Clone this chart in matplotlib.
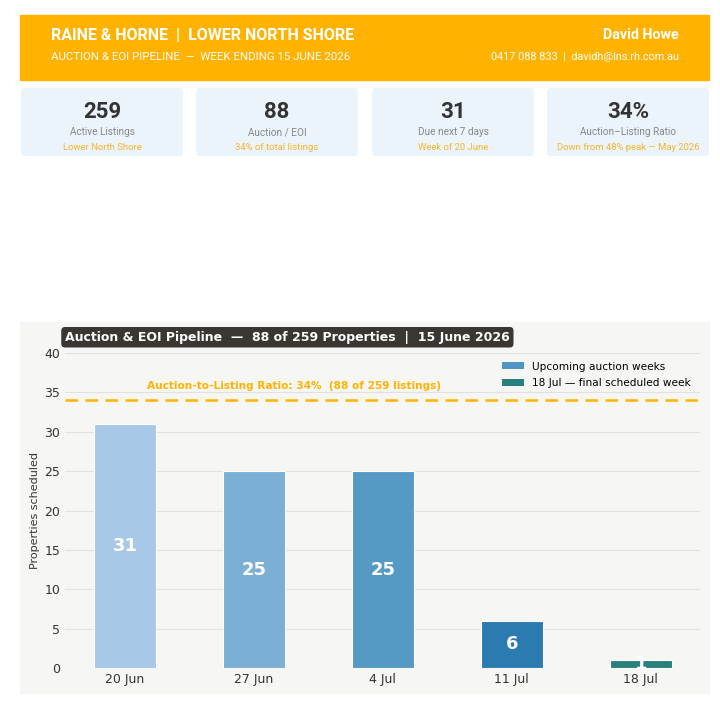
import numpy as np
import matplotlib
matplotlib.use("Agg")
import matplotlib.pyplot as plt
from matplotlib.patches import FancyBboxPatch, Rectangle, Patch

# data
weeks = ['20 Jun', '27 Jun', '4 Jul', '11 Jul', '18 Jul']
counts = [31, 25, 25, 6, 1]
bar_colors = ['#A8C8E8', '#7BAFD4', '#5599C5', '#2B7AB0', '#2A807C']
ratio = 34

kpi_values = ['259', '88', '31', '34%']
kpi_labels = ['Active Listings', 'Auction / EOI', 'Due next 7 days', 'Auction\u2013Listing Ratio']
kpi_subs = ['Lower North Shore', '34% of total listings', 'Week of 20 June',
            'Down from 48% peak \u2014 May 2026']

ORANGE = '#FFB300'
W, H = 720, 703

fig = plt.figure(figsize=(W / 100, H / 100), dpi=100)
fig.patch.set_facecolor('white')

# background layer in pixel coords
bg = fig.add_axes([0, 0, 1, 1], zorder=0)
bg.set_xlim(0, W)
bg.set_ylim(H, 0)
bg.axis('off')

bg.add_patch(Rectangle((20, 15), 689, 65, color=ORANGE))
hf = ['Roboto', 'DejaVu Sans']
bg.text(51, 35, 'RAINE & HORNE  |  LOWER NORTH SHORE', color='white', fontsize=11.5,
        fontweight='bold', va='center', family=hf)
bg.text(51, 57, 'AUCTION & EOI PIPELINE  \u2014  WEEK ENDING 15 JUNE 2026', color='white',
        fontsize=8.2, va='center', family=hf)
bg.text(679, 35, 'David Howe', color='white', fontsize=10.3, fontweight='bold',
        va='center', ha='right', family=hf)
bg.text(679, 57, '0417 088 833  |  davidh@lns.rh.com.au', color='white', fontsize=7.8,
        va='center', ha='right', family=hf)

card_x = [21, 196, 372, 547]
for i, cx in enumerate(card_x):
    bg.add_patch(FancyBboxPatch((cx + 3, 91), 156, 62, boxstyle='round,pad=3,rounding_size=4',
                                facecolor='#EBF3FB', edgecolor='none'))
    mid = cx + 81
    bg.text(mid, 112, kpi_values[i], ha='center', va='center', fontsize=16,
            fontweight='bold', color='#333333', family=hf)
    bg.text(mid, 132, kpi_labels[i], ha='center', va='center', fontsize=7.2,
            color='#888888', family=hf)
    bg.text(mid, 147, kpi_subs[i], ha='center', va='center', fontsize=6.8,
            color='#F7B52C', family=hf)

# chart panel
bg.add_patch(Rectangle((20, 322), 689, 371, color='#F6F6F4'))

ax = fig.add_axes([65 / W, (H - 668) / H, 635 / W, 315 / H], zorder=1)
ax.set_facecolor('none')
x = np.arange(len(weeks))
ax.bar(x, counts, width=0.48, color=bar_colors, edgecolor='white', linewidth=0.8, zorder=3)
for xi, c in zip(x, counts):
    ax.text(xi, c / 2, str(c), ha='center', va='center', color='white', fontsize=13,
            fontweight='bold', zorder=4)

ax.axhline(ratio, color=ORANGE, linestyle='--', linewidth=1.8, dashes=(5, 3), zorder=2)
ax.text(1.31, ratio + 1.8, 'Auction-to-Listing Ratio: 34%  (88 of 259 listings)',
        ha='center', va='center', color=ORANGE, fontsize=7.6, fontweight='bold')

ax.set_xlim(-0.465, 4.46)
ax.set_ylim(0, 40)
ax.set_yticks(range(0, 41, 5))
ax.set_xticks(x)
ax.set_xticklabels(weeks)
ax.tick_params(length=0, labelsize=9, colors='#333333')
ax.grid(axis='y', color='#E2E2E2', linewidth=0.8, zorder=0)
for s in ax.spines.values():
    s.set_visible(False)
ax.set_ylabel('Properties scheduled', fontsize=8, color='#333333', labelpad=3)

handles = [Patch(facecolor='#4F96C5', label='Upcoming auction weeks'),
           Patch(facecolor='#2A807C', label='18 Jul \u2014 final scheduled week')]
ax.legend(handles=handles, loc='upper right', fontsize=7.6, frameon=False,
          bbox_to_anchor=(0.995, 0.993), handlelength=2.1, handleheight=0.65,
          labelspacing=0.6, handletextpad=0.75, borderaxespad=0.2)

ax.text(0.0, 1.05, 'Auction & EOI Pipeline  \u2014  88 of 259 Properties  |  15 June 2026',
        transform=ax.transAxes, ha='left', va='center', color='white', fontsize=9,
        fontweight='bold',
        bbox=dict(boxstyle='round,pad=0.3,rounding_size=0.3', facecolor='#3A3632',
                  edgecolor='none'))

fig.savefig('out.png', dpi=100, facecolor='white')
